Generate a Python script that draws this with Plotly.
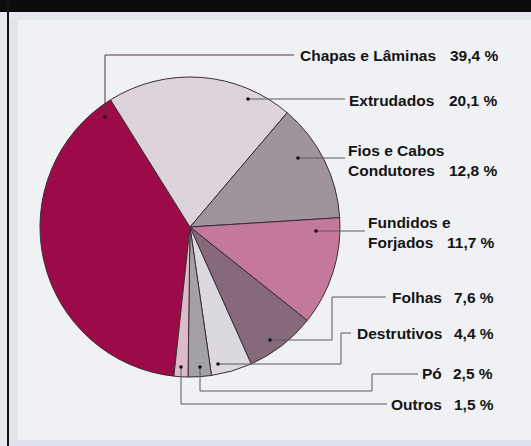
import plotly.graph_objects as go

# ---- data ----
categories = ["Chapas e Lâminas", "Extrudados", "Fios e Cabos Condutores", "Fundidos e Forjados",
              "Folhas", "Destrutivos", "Pó", "Outros"]
values = [39.4, 20.1, 12.8, 11.7, 7.6, 4.4, 2.5, 1.5]
name_labels = ["Chapas e Lâminas", "Extrudados", "Fios e Cabos<br>Condutores", "Fundidos e<br>Forjados",
               "Folhas", "Destrutivos", "Pó", "Outros"]
value_labels = [f"{v:.1f}".replace(".", ",") + " %" for v in values]

# ---- styling ----
colors = ["#9c0a47", "#dcd3dc", "#9f949e", "#c4789c", "#86697b", "#dcd8e0", "#a3a1a6", "#dcbacb"]
W, H = 531, 446
cx, cy, r = 190, 227, 150
start_angle = -32  # where the second slice (Extrudados) begins, clockwise from 12 o'clock
rotation = start_angle - 360 * values[0] / sum(values)

# label placement (pixels): (anchor, x, y) for names, (x_right, y) for values
name_pos = [("right", 437, 55), ("right", 435, 100), ("left", 347, 160), ("left", 367, 232),
            ("right", 443, 297), ("right", 443, 333), ("right", 443, 373), ("right", 443, 404)]
value_pos = [(499, 55), (498, 100), (498, 170), (496, 242), (495, 297), (495, 333), (494, 373), (495, 404)]
dots = [(105, 117), (248, 99), (298, 158), (316, 231), (270, 340), (218, 364), (200, 367), (181, 367)]
leaders = ["M105,117 V55 H294", "M248,99 H345", "M298,158 H345", "M316,231 H365",
           "M270,340 H332 V297 H386", "M218,364 H341 V333 H351",
           "M200,367 V391 H372 V374 H418", "M181,367 V404 H387"]
leader_colors = ["#4a3a42", "#5a5a5a", "#5a5a5a", "#5a5a5a", "#5a5a5a", "#5a5a5a", "#5a5a5a", "#5a5a5a"]

fig = go.Figure()
fig.add_trace(go.Pie(
    labels=categories, values=values, sort=False, direction="clockwise", rotation=rotation,
    marker=dict(colors=colors, line=dict(color="#3b2d35", width=1)),
    textinfo="none", hoverinfo="label+percent", showlegend=False,
    domain=dict(x=[(cx - r) / W, (cx + r) / W], y=[(H - cy - r) / H, (H - cy + r) / H]),
))

shapes = [
    # background frame
    dict(type="rect", x0=0, y0=0, x1=7, y1=H, fillcolor="#e6e9ee", line_width=0, layer="below"),
    dict(type="rect", x0=9, y0=12, x1=18, y1=H, fillcolor="#e1e5ec", line_width=0, layer="below"),
    dict(type="rect", x0=9, y0=12, x1=W, y1=20, fillcolor="#e4e7ed", line_width=0, layer="below"),
    dict(type="rect", x0=9, y0=440, x1=W, y1=H, fillcolor="#dde2ec", line_width=0, layer="below"),
    dict(type="rect", x0=0, y0=0, x1=W, y1=12, fillcolor="#0c0c0c", line_width=0, layer="below"),
    dict(type="line", x0=8, y0=0, x1=8, y1=H, line=dict(color="#111111", width=2), layer="below"),
]
for p, lc in zip(leaders, leader_colors):
    shapes.append(dict(type="path", path=p, line=dict(color=lc, width=1)))
for (dx, dy) in dots:
    shapes.append(dict(type="circle", x0=dx - 1.8, x1=dx + 1.8, y0=dy - 1.8, y1=dy + 1.8,
                       fillcolor="#111111", line_width=0))

font = dict(family="Liberation Sans, Arial, sans-serif", size=15.5, color="#141414")
annotations = []
for lab, (anc, x, y) in zip(name_labels, name_pos):
    annotations.append(dict(x=x, y=y, xref="x", yref="y", text=f"<b>{lab}</b>", showarrow=False,
                            xanchor=anc, yanchor="middle", align="left", font=font, borderpad=0))
for val, (x, y) in zip(value_labels, value_pos):
    annotations.append(dict(x=x, y=y, xref="x", yref="y", text=f"<b>{val}</b>", showarrow=False,
                            xanchor="right", yanchor="middle", font=font, borderpad=0))

fig.update_layout(
    width=W, height=H, margin=dict(l=0, r=0, t=0, b=0),
    paper_bgcolor="#eff1f4", plot_bgcolor="rgba(0,0,0,0)",
    xaxis=dict(range=[0, W], visible=False, fixedrange=True, domain=[0, 1]),
    yaxis=dict(range=[H, 0], visible=False, fixedrange=True, domain=[0, 1]),
    shapes=shapes, annotations=annotations,
)

fig.write_html("out.html", config={"displayModeBar": False},
               post_script="document.body.style.margin='0px';")
